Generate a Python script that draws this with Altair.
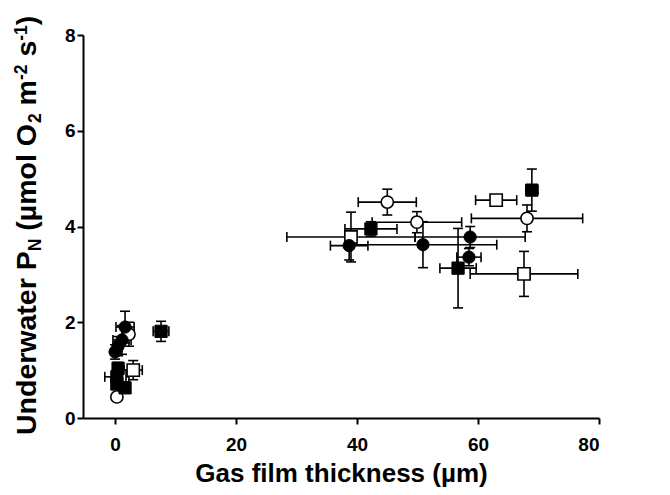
import altair as alt
import pandas as pd

# ---- data ----
# filled circles
fc_x = [0.0, 0.5, 1.15, 1.65, 38.7, 50.9, 58.7, 58.5]
fc_y = [1.38, 1.50, 1.63, 1.90, 3.60, 3.62, 3.78, 3.36]
fc_xerr = [0.3, 0.6, 1.5, 1.5, 3.1, 12.2, 9.1, 2.0]
fc_yerr = [0.15, 0.2, 0.3, 0.33, 0.3, 0.48, 0.22, 0.18]
# open circles
oc_x = [0.3, 2.3, 45.0, 49.9, 68.1]
oc_y = [0.44, 1.75, 4.51, 4.09, 4.17]
oc_xerr = [0.3, 0.6, 4.8, 7.4, 9.2]
oc_yerr = [0.05, 0.25, 0.27, 0.22, 0.28]
# filled squares
fs_x = [0.3, 0.5, 0.3, 1.65, 7.6, 42.3, 56.7, 68.9]
fs_y = [0.71, 1.04, 0.86, 0.63, 1.81, 3.95, 3.13, 4.76]
fs_xerr = [0.4, 0.4, 2.0, 0.5, 1.3, 4.3, 3.0, 1.0]
fs_yerr = [0.1, 0.12, 0.15, 0.1, 0.21, 0.15, 0.83, 0.44]
# open squares
os_x = [0.8, 3.0, 39.0, 63.0, 67.6]
os_y = [0.88, 1.00, 3.78, 4.55, 3.01]
os_xerr = [0.4, 1.5, 10.6, 3.4, 8.9]
os_yerr = [0.1, 0.2, 0.52, 0.1, 0.47]

x_ticks = [0, 20, 40, 60, 80]
y_ticks = [0, 2, 4, 6, 8]
x_title = "Gas film thickness (µm)"

FONT = "Liberation Sans"


def frame(xs, ys, xe, ye):
    return pd.DataFrame({
        "x": xs, "y": ys,
        "xlo": [a - b for a, b in zip(xs, xe)], "xhi": [a + b for a, b in zip(xs, xe)],
        "ylo": [a - b for a, b in zip(ys, ye)], "yhi": [a + b for a, b in zip(ys, ye)],
    })


df_fc = frame(fc_x, fc_y, fc_xerr, fc_yerr)
df_oc = frame(oc_x, oc_y, oc_xerr, oc_yerr)
df_fs = frame(fs_x, fs_y, fs_xerr, fs_yerr)
df_os = frame(os_x, os_y, os_xerr, os_yerr)
df_all = pd.concat([df_os, df_oc, df_fs, df_fc], ignore_index=True)

xscale = alt.Scale(domain=[-5.3, 80], nice=False, zero=False)
yscale = alt.Scale(domain=[0, 8], nice=False, zero=False)
xaxis = alt.Axis(values=x_ticks, format="d")
yaxis = alt.Axis(values=y_ticks, format="d")


def X(f):
    return alt.X(f, type="quantitative", scale=xscale, axis=xaxis, title=x_title)


def Y(f):
    return alt.Y(f, type="quantitative", scale=yscale, axis=yaxis, title=None)


base = alt.Chart(df_all)
lw = 1.6
hbar = base.mark_rule(color="black", strokeWidth=lw).encode(x=X("xlo"), x2="xhi", y=Y("y"))
vbar = base.mark_rule(color="black", strokeWidth=lw).encode(x=X("x"), y=Y("ylo"), y2="yhi")
cap_l = base.mark_tick(orient="vertical", color="black", size=10, thickness=lw, opacity=1).encode(x=X("xlo"), y=Y("y"))
cap_r = base.mark_tick(orient="vertical", color="black", size=10, thickness=lw, opacity=1).encode(x=X("xhi"), y=Y("y"))
cap_b = base.mark_tick(orient="horizontal", color="black", size=10, thickness=lw, opacity=1).encode(x=X("x"), y=Y("ylo"))
cap_t = base.mark_tick(orient="horizontal", color="black", size=10, thickness=lw, opacity=1).encode(x=X("x"), y=Y("yhi"))

msize = 150
pts_os = alt.Chart(df_os).mark_point(shape="square", filled=True, fill="white", stroke="black",
                                     strokeWidth=1.6, size=msize, opacity=1).encode(x=X("x"), y=Y("y"))
pts_oc = alt.Chart(df_oc).mark_point(shape="circle", filled=True, fill="white", stroke="black",
                                     strokeWidth=1.6, size=msize, opacity=1).encode(x=X("x"), y=Y("y"))
pts_fs = alt.Chart(df_fs).mark_point(shape="square", filled=True, fill="black", stroke="black",
                                     strokeWidth=1, size=msize, opacity=1).encode(x=X("x"), y=Y("y"))
pts_fc = alt.Chart(df_fc).mark_point(shape="circle", filled=True, fill="black", stroke="black",
                                     strokeWidth=1, size=msize, opacity=1).encode(x=X("x"), y=Y("y"))

# ---- rotated y-axis title with sub/superscripts (Arial/Liberation Sans Bold metrics) ----
W = {" ": 278, "(": 333, ")": 333, "-": 333, "1": 556, "2": 556, "N": 722, "O": 778, "P": 667,
     "U": 722, "a": 556, "d": 611, "e": 556, "l": 278, "m": 889, "n": 611, "o": 611, "r": 389,
     "s": 556, "t": 333, "w": 778, "µ": 611}
MAIN, SMALL = 28.5, 17.5
segments = [("Underwater P", 0), ("N", 1), (" (µmol O", 0), ("2", 1), (" m", 0), ("-2", 2),
            (" s", 0), ("-1", 2), (")", 0)]
x_base = -47
cur = 400.0
title_layers = []
for txt, kind in segments:
    fs = MAIN if kind == 0 else SMALL
    xpos = x_base + (5 if kind == 1 else (-9 if kind == 2 else 0))
    lead = len(txt) - len(txt.lstrip(" "))
    shown = txt.lstrip(" ")
    ypos = cur - lead * W[" "] * fs / 1000.0
    title_layers.append(
        alt.Chart(pd.DataFrame({"t": [shown]})).mark_text(
            angle=270, align="left", baseline="alphabetic", font=FONT, fontWeight="bold",
            fontSize=fs, color="black"
        ).encode(text="t:N", x=alt.value(xpos), y=alt.value(ypos))
    )
    cur -= sum(W[c] for c in txt) * fs / 1000.0

chart = alt.layer(
    hbar, vbar, cap_l, cap_r, cap_b, cap_t, pts_os, pts_oc, pts_fs, pts_fc, *title_layers
).properties(
    width=516, height=383,
    autosize=alt.AutoSizeParams(type="none"),
    padding={"left": 75, "top": 27, "right": 63, "bottom": 71},
).configure_view(stroke=None).configure_axis(
    grid=False,
    domainColor="black", domainWidth=2,
    tickColor="black", tickWidth=2, tickSize=6,
    labelFont=FONT, labelFontWeight="bold", labelFontSize=19, labelColor="black",
    titleFont=FONT, titleFontWeight="bold", titleFontSize=26, titleColor="black",
).configure_axisX(labelPadding=11, titlePadding=6).configure_axisY(labelPadding=2)

chart.save("out.html", embed_options={"renderer": "svg", "actions": False})
